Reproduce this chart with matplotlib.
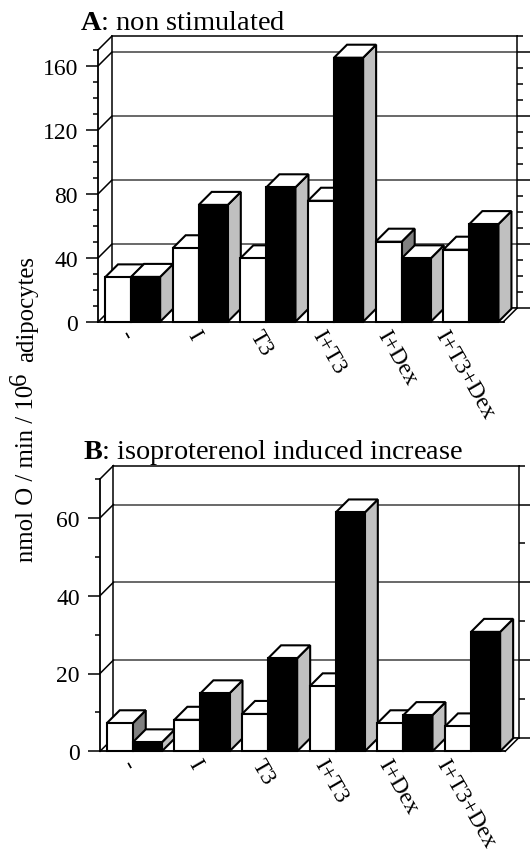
import matplotlib
matplotlib.use('Agg')
import matplotlib.pyplot as plt
from matplotlib.patches import Polygon
from matplotlib.ticker import MultipleLocator

plt.rcParams['font.family'] = ['Liberation Serif', 'DejaVu Serif']
plt.rcParams['mathtext.fontset'] = 'custom'
plt.rcParams['mathtext.rm'] = 'Liberation Serif'
plt.rcParams['mathtext.bf'] = 'Liberation Serif:bold'

# Data
categories = ['-', 'I', 'T3', 'I+T3', 'I+Dex', 'I+T3+Dex']
a_white = [27.7, 45.9, 39.6, 75.6, 50, 45]
a_black = [28, 73, 84, 165, 39.6, 61]
b_white = [7.2, 8.1, 9.6, 16.7, 7.2, 6.4]
b_black = [2.3, 14.9, 23.9, 61.4, 9.3, 30.7]

W, H = 530, 853
PERIOD = 67.66      # px between groups
DEPTH = 13.0        # px, bar depth
SHIFT = 13.4        # px, back wall offset
w_white = 0.385
w_black = 0.43
XMIN, XMAX = -0.099, 5.89
LW = 1.5

fig = plt.figure(figsize=(W / 100, H / 100), dpi=100)


def box(x, val, width, dx, dy, front, side):
    # side and top faces first, then the front
    ax = plt.gca()
    ax.add_patch(Polygon([(x + width, 0), (x + width + dx, dy), (x + width + dx, val + dy), (x + width, val)],
                         fc=side, ec='black', lw=LW, clip_on=False, joinstyle='miter', zorder=3))
    ax.add_patch(Polygon([(x, val), (x + dx, val + dy), (x + width + dx, val + dy), (x + width, val)],
                         fc='white', ec='black', lw=LW, clip_on=False, joinstyle='miter', zorder=3))
    ax.bar(x, val, width, align='edge', color=front, edgecolor='black', lw=LW, clip_on=False, zorder=3)


def panel(white, black, left, base, top, ymax, major, minor):
    width = (XMAX - XMIN) * PERIOD
    # back wall, carries the grid and the right hand ticks
    back = fig.add_axes([(left + SHIFT) / W, 1 - (base - SHIFT) / H, width / W, (base - top) / H])
    back.set_xlim(XMIN, XMAX)
    back.set_ylim(0, ymax)
    back.set_xticks([])
    back.yaxis.tick_right()
    back.yaxis.set_major_locator(MultipleLocator(major))
    back.yaxis.set_minor_locator(MultipleLocator(minor))
    back.tick_params(axis='y', which='major', length=9, width=1.1, labelright=False)
    back.tick_params(axis='y', which='minor', length=4.5, width=1.1)
    back.grid(True, axis='y', which='major', color='#404040', lw=1.1)
    for s in back.spines.values():
        s.set_linewidth(1.1)

    ax = fig.add_axes([left / W, 1 - base / H, width / W, (base - top) / H])
    plt.sca(ax)
    ax.patch.set_visible(False)
    ax.set_xlim(XMIN, XMAX)
    ax.set_ylim(0, ymax)
    ax.spines['top'].set_visible(False)
    ax.spines['right'].set_visible(False)
    ax.spines['left'].set_linewidth(1.3)
    ax.spines['bottom'].set_linewidth(1.3)
    ax.yaxis.set_major_locator(MultipleLocator(major))
    ax.yaxis.set_minor_locator(MultipleLocator(minor))
    ax.tick_params(axis='y', which='major', length=8.6, width=1.1, pad=6, labelsize=17)
    ax.tick_params(axis='y', which='minor', length=3.6, width=1.1)

    px_y = (base - top) / ymax
    dx = DEPTH / PERIOD
    dy = DEPTH / px_y
    sx = SHIFT / PERIOD
    sy = SHIFT / px_y

    # diagonals between the front axis and the back wall
    yvals = list(range(0, ymax, major)) + [ymax]
    for v in yvals:
        ax.plot([XMIN, XMIN + sx], [v, v + sy], color='black', lw=1.1, clip_on=False, zorder=2)
    ax.plot([XMAX, XMAX + sx], [0, sy], color='black', lw=1.1, clip_on=False, zorder=2)

    for i in range(len(categories)):
        box(i, white[i], w_white, dx, dy, 'white', '#808080')
        box(i + w_white, black[i], w_black, dx, dy, 'black', '#c0c0c0')

    ax.set_xticks([i + 0.31 for i in range(len(categories))])
    ax.set_xticklabels(categories, rotation=-60, ha='center', va='top', fontsize=16.8)
    ax.tick_params(axis='x', length=0, pad=3)
    return ax


panel(a_white, a_black, 98.3, 322.7, 50.7, 170, 40, 10)
panel(b_white, b_black, 100, 752.3, 480, 70, 20, 10)

fig.text(80 / W, 1 - 30 / H, r'$\mathbf{A}$: non stimulated', fontsize=20.5, va='baseline')
fig.text(83 / W, 1 - 459 / H, r'$\mathbf{B}$: isoproterenol induced increase', fontsize=20.3, va='baseline')

# y label in three pieces, the exponent is nearly full size in the original
ylab = dict(rotation=90, rotation_mode='anchor', ha='left', va='baseline', fontsize=17.8)
fig.text(33.3 / W, 1 - 562 / H, 'nmol O / min / 10', **ylab)
fig.text(26 / W, 1 - 385 / H, '6', **ylab)
fig.text(33.3 / W, 1 - 362 / H, 'adipocytes', **ylab)

fig.savefig('out.png', dpi=100)
